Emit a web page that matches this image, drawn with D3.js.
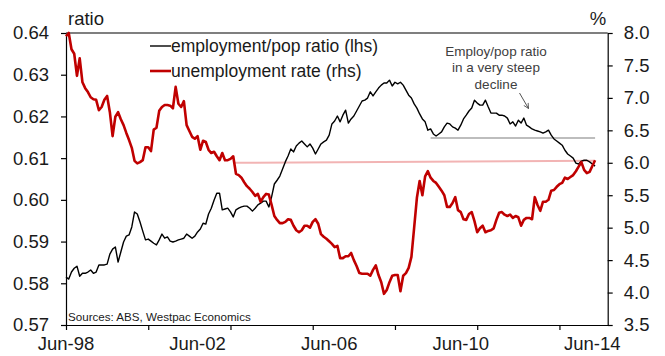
<!DOCTYPE html>
<html>
<head>
<meta charset="utf-8">
<script src="https://cdn.jsdelivr.net/npm/d3@7/dist/d3.min.js"></script>
<style>
  html, body { margin: 0; padding: 0; background: #ffffff; }
  svg { display: block; }
  text { font-family: "Liberation Sans", Arial, sans-serif; }
</style>
</head>
<body>
<svg id="chart" width="665" height="356"></svg>
<script>
// Monthly series, first observation June 1998
const firstMonth = new Date(1998, 5, 1);

// Employment to population ratio (left axis)
const employmentPopRatio = [
  0.5815, 0.5810, 0.5827, 0.5836, 0.5841, 0.5817, 0.5824, 0.5824, 0.5827, 0.5832,
  0.5824, 0.5827, 0.5844, 0.5844, 0.5844, 0.5846, 0.5870, 0.5882, 0.5887, 0.5851,
  0.5875, 0.5899, 0.5913, 0.5916, 0.5935, 0.5971, 0.5966, 0.5947, 0.5925, 0.5904,
  0.5906, 0.5901, 0.5896, 0.5892, 0.5904, 0.5918, 0.5908, 0.5911, 0.5901, 0.5899,
  0.5901, 0.5904, 0.5906, 0.5908, 0.5918, 0.5913, 0.5908, 0.5913, 0.5923, 0.5930,
  0.5944, 0.5942, 0.5966, 0.5980, 0.5999, 0.6016, 0.6016, 0.5976, 0.5978, 0.5980,
  0.5971, 0.5959, 0.5976, 0.5980, 0.5983, 0.5985, 0.5985, 0.5980, 0.5973, 0.5980,
  0.5988, 0.5992, 0.5997, 0.5997, 0.5983, 0.6007, 0.6038, 0.6047, 0.6057, 0.6074,
  0.6091, 0.6105, 0.6122, 0.6115, 0.6129, 0.6136, 0.6141, 0.6134, 0.6127, 0.6134,
  0.6124, 0.6110, 0.6122, 0.6134, 0.6139, 0.6143, 0.6155, 0.6182, 0.6189, 0.6201,
  0.6187, 0.6203, 0.6215, 0.6184, 0.6194, 0.6201, 0.6213, 0.6225, 0.6237, 0.6239,
  0.6244, 0.6259, 0.6249, 0.6259, 0.6268, 0.6275, 0.6280, 0.6280, 0.6287, 0.6273,
  0.6282, 0.6278, 0.6282, 0.6275, 0.6263, 0.6251, 0.6244, 0.6230, 0.6220, 0.6206,
  0.6194, 0.6187, 0.6167, 0.6170, 0.6158, 0.6153, 0.6158, 0.6163, 0.6175, 0.6184,
  0.6182, 0.6175, 0.6172, 0.6167, 0.6179, 0.6194, 0.6203, 0.6213, 0.6220, 0.6239,
  0.6232, 0.6227, 0.6227, 0.6239, 0.6223, 0.6208, 0.6208, 0.6208, 0.6203, 0.6203,
  0.6201, 0.6196, 0.6182, 0.6187, 0.6177, 0.6191, 0.6184, 0.6196, 0.6179, 0.6175,
  0.6170, 0.6167, 0.6165, 0.6163, 0.6160, 0.6163, 0.6167, 0.6155, 0.6146, 0.6141,
  0.6136, 0.6131, 0.6119, 0.6110, 0.6105, 0.6100, 0.6088, 0.6086, 0.6093, 0.6095,
  0.6095, 0.6091, 0.6086, 0.6081
];

// Unemployment rate, % (right axis)
const unemploymentRate = [
  7.95, 8.00, 7.75, 7.68, 7.34, 7.61, 7.24, 7.15, 7.09, 7.01,
  6.98, 6.97, 6.81, 6.86, 6.97, 7.03, 6.78, 6.41, 6.71, 6.78,
  6.67, 6.58, 6.46, 6.35, 6.23, 6.03, 5.99, 6.01, 6.04, 6.24,
  6.24, 6.18, 6.51, 6.54, 6.80, 6.86, 6.89, 6.89, 6.88, 6.84,
  7.17, 6.91, 6.86, 6.95, 6.58, 6.49, 6.40, 6.37, 6.41, 6.20,
  6.34, 6.32, 6.20, 6.15, 6.17, 6.10, 6.04, 6.15, 6.04, 6.04,
  6.06, 6.10, 5.83, 5.81, 5.77, 5.70, 5.64, 5.60, 5.55, 5.49,
  5.52, 5.40, 5.47, 5.52, 5.51, 5.35, 5.18, 5.12, 5.07, 5.07,
  5.09, 5.13, 5.12, 5.03, 4.96, 4.93, 4.96, 5.03, 5.03, 5.00,
  5.09, 5.13, 5.06, 4.90, 4.86, 4.83, 4.79, 4.75, 4.70, 4.72,
  4.53, 4.53, 4.56, 4.56, 4.61, 4.50, 4.41, 4.30, 4.29, 4.29,
  4.29, 4.26, 4.35, 4.42, 4.27, 4.16, 3.98, 4.04, 4.16, 4.26,
  4.27, 4.27, 4.02, 4.26, 4.30, 4.38, 4.55, 5.00, 5.46, 5.72,
  5.50, 5.79, 5.87, 5.77, 5.72, 5.69, 5.63, 5.57, 5.50, 5.32,
  5.32, 5.38, 5.47, 5.27, 5.24, 5.13, 5.12, 5.21, 5.24, 5.10,
  4.93, 4.99, 5.03, 4.93, 4.95, 4.96, 4.99, 5.12, 5.23, 5.24,
  5.20, 5.18, 5.20, 5.15, 5.18, 5.16, 5.03, 5.12, 5.15, 5.15,
  5.13, 5.47, 5.35, 5.26, 5.40, 5.40, 5.43, 5.57, 5.58, 5.63,
  5.67, 5.69, 5.77, 5.75, 5.78, 5.81, 5.87, 5.94, 6.01, 5.89,
  5.84, 5.86, 5.95, 6.04
];

// Reference lines: the 2009 low in the ratio, and the unemployment rate back at 6%
const ratioFloorMonths = ["2009-07", "2014-07"];
const ratioFloorLevels = [0.6148, 0.6148];
const unempRefMonths = ["2003-07", "2014-07"];
const unempRefLevels = [6.00, 6.03];

// Axis ticks and labels
const leftTicks = [0.57, 0.58, 0.59, 0.60, 0.61, 0.62, 0.63, 0.64];
const rightTicks = [3.5, 4.0, 4.5, 5.0, 5.5, 6.0, 6.5, 7.0, 7.5, 8.0];
const xLabelMonths = ["1998-06", "2002-06", "2006-06", "2010-06", "2014-06"];
const xTickEveryMonths = 30;

const legendLabels = ["employment/pop ratio (lhs)", "unemployment rate (rhs)"];
const noteLines = ["Employ/pop ratio", "in a very steep", "decline"];
const sourceText = "Sources: ABS, Westpac Economics";

// ---- layout ----
const svg = d3.select("#chart");
const plot = { left: 66, right: 607.7, top: 33, bottom: 325 };
const BLACK = "#000000";
const RED = "#c00000";

const parseMonth = d3.timeParse("%Y-%m");
const monthIndex = d => d3.timeMonth.count(firstMonth, d);
const lastIndex = 197.6; // axis runs to about mid-January 2015

const x = d3.scaleLinear().domain([0, lastIndex]).range([plot.left, plot.right]);
const yL = d3.scaleLinear().domain([0.57, 0.64]).range([plot.bottom, plot.top]);
const yR = d3.scaleLinear().domain([3.5, 8.0]).range([plot.bottom, plot.top]);

const fmtMonth = d3.timeFormat("%b-%y");

// ---- axes ----
const leftAxis = d3.axisLeft(yL).tickValues(leftTicks).tickFormat(d3.format(".2f"))
  .tickSizeInner(5).tickSizeOuter(0).tickPadding(12);
const rightAxis = d3.axisRight(yR).tickValues(rightTicks).tickFormat(d3.format(".1f"))
  .tickSizeInner(5).tickSizeOuter(0).tickPadding(11);

const xTickVals = d3.range(0, lastIndex, xTickEveryMonths);
const bottomAxis = d3.axisBottom(x).tickValues(xTickVals).tickFormat("")
  .tickSizeInner(5).tickSizeOuter(0);

function styleAxis(g) {
  g.select(".domain").attr("stroke", "#000").attr("stroke-width", 1.2);
  g.selectAll(".tick line").attr("stroke", "#000").attr("stroke-width", 1.2);
  g.selectAll("text").attr("font-size", 18.5).attr("fill", "#1a1a1a")
    .attr("font-family", "'Liberation Sans', Arial, sans-serif");
}

svg.append("g").attr("transform", `translate(${plot.left},0)`).call(leftAxis).call(styleAxis);
svg.append("g").attr("transform", `translate(${plot.right},0)`).call(rightAxis).call(styleAxis);
svg.append("g").attr("transform", `translate(0,${plot.bottom})`).call(bottomAxis).call(styleAxis);

// top frame line
svg.append("line")
  .attr("x1", plot.left).attr("x2", plot.right)
  .attr("y1", plot.top).attr("y2", plot.top)
  .attr("stroke", "#000").attr("stroke-width", 1.2);

// x labels every four years
svg.append("g").selectAll("text")
  .data(xLabelMonths.map(parseMonth))
  .join("text")
  .attr("x", d => x(monthIndex(d)))
  .attr("y", 350)
  .attr("text-anchor", "middle")
  .attr("font-size", 18.5)
  .attr("fill", "#1a1a1a")
  .text(d => fmtMonth(d));

// axis unit titles
svg.append("text").attr("x", 68).attr("y", 25).attr("font-size", 18.5)
  .attr("fill", "#1a1a1a").text("ratio");
svg.append("text").attr("x", 598).attr("y", 25).attr("font-size", 18.5)
  .attr("text-anchor", "middle").attr("fill", "#1a1a1a").text("%");

// ---- reference lines ----
const refLine = (months, levels, yScale) =>
  months.map((m, i) => [x(monthIndex(parseMonth(m))), yScale(levels[i])]);

svg.append("path")
  .attr("d", d3.line()(refLine(unempRefMonths, unempRefLevels, yR)))
  .attr("fill", "none").attr("stroke", "#f2b4b4").attr("stroke-width", 2);

svg.append("path")
  .attr("d", d3.line()(refLine(ratioFloorMonths, ratioFloorLevels, yL)))
  .attr("fill", "none").attr("stroke", "#bdbdbd").attr("stroke-width", 2);

// ---- series ----
const ratioLine = d3.line().x((d, i) => x(i)).y(d => yL(d));
const unempLine = d3.line().x((d, i) => x(i)).y(d => yR(d));

svg.append("path")
  .attr("d", ratioLine(employmentPopRatio))
  .attr("fill", "none").attr("stroke", BLACK).attr("stroke-width", 1.4)
  .attr("stroke-linejoin", "round");

svg.append("path")
  .attr("d", unempLine(unemploymentRate))
  .attr("fill", "none").attr("stroke", RED).attr("stroke-width", 2.6)
  .attr("stroke-linejoin", "round");

// ---- legend ----
const legend = svg.append("g").attr("transform", "translate(150,46)");
const legendStyles = [{ c: BLACK, w: 1.4 }, { c: RED, w: 2.6 }];
legendLabels.forEach((lab, i) => {
  const row = legend.append("g").attr("transform", `translate(0,${i * 25})`);
  row.append("line").attr("x1", 0).attr("x2", 21).attr("y1", 0).attr("y2", 0)
    .attr("stroke", legendStyles[i].c).attr("stroke-width", legendStyles[i].w);
  row.append("text").attr("x", 21).attr("y", 6).attr("font-size", 17.5)
    .attr("fill", "#1a1a1a").text(lab);
});

// ---- annotation ----
const note = svg.append("text").attr("text-anchor", "middle")
  .attr("font-size", 13.5).attr("fill", "#404040");
noteLines.forEach((t, i) => {
  note.append("tspan").attr("x", 496).attr("y", 56 + i * 16.3).text(t);
});

svg.append("defs").append("marker")
  .attr("id", "arrowHead").attr("viewBox", "0 0 10 10")
  .attr("refX", 9).attr("refY", 5)
  .attr("markerWidth", 7).attr("markerHeight", 7)
  .attr("orient", "auto")
  .append("path").attr("d", "M1,1 L9,5 L1,9")
  .attr("fill", "none").attr("stroke", "#404040").attr("stroke-width", 1.2);

svg.append("line")
  .attr("x1", 519.5).attr("y1", 93).attr("x2", 528.5).attr("y2", 108.5)
  .attr("stroke", "#404040").attr("stroke-width", 0.9)
  .attr("marker-end", "url(#arrowHead)");

// ---- source ----
svg.append("text").attr("x", 68).attr("y", 321).attr("font-size", 11.6)
  .attr("fill", "#1a1a1a").text(sourceText);
</script>
</body>
</html>
